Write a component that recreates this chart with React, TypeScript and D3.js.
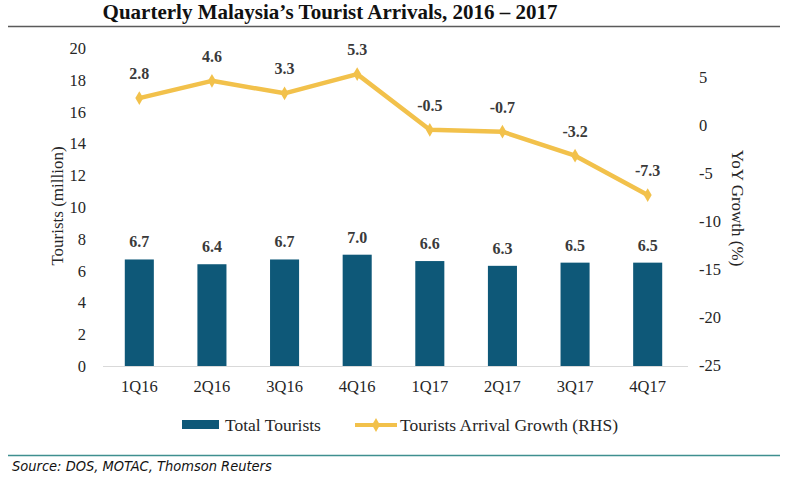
import React from "react";
import * as d3 from "d3";

const categories = ["1Q16", "2Q16", "3Q16", "4Q16", "1Q17", "2Q17", "3Q17", "4Q17"];
const totalTourists = [6.7, 6.4, 6.7, 7.0, 6.6, 6.3, 6.5, 6.5];
const arrivalGrowth = [2.8, 4.6, 3.3, 5.3, -0.5, -0.7, -3.2, -7.3];
const leftTicks = [0, 2, 4, 6, 8, 10, 12, 14, 16, 18, 20];
const rightTicks = [5, 0, -5, -10, -15, -20, -25];

const W = 795;
const H = 483;
const BAR = "#0e5878";
const LINE = "#f2c14b";
const TXT = "#262626";
const SERIF = "'Liberation Serif', 'Times New Roman', serif";

export default function App() {
  const x = d3.scaleBand<string>().domain(categories).range([103, 684]).paddingInner(0.6).paddingOuter(0.3);
  const yL = d3.scaleLinear().domain([0, 20]).range([366, 48]);
  const yR = d3.scaleLinear().domain([-25, 5]).range([365, 77]);
  const cx = (c: string) => (x(c) as number) + x.bandwidth() / 2;
  const line = d3
    .line<number>()
    .x((_, i) => cx(categories[i]))
    .y((d) => yR(d));
  const diamond = d3.symbol().type(d3.symbolDiamond).size(55)();

  return (
    <svg
      width={W}
      height={H}
      style={{ position: "absolute", left: 0, top: 0, background: "#fff" }}
      fontFamily={SERIF}
    >
      <rect width={W} height={H} fill="#fff" />
      <text x={330} y={19} textAnchor="middle" fontSize={21} fontWeight="bold" fill="#111">
        Quarterly Malaysia’s Tourist Arrivals, 2016 – 2017
      </text>
      <line x1={8} x2={780} y1={26.5} y2={26.5} stroke="#5a5a5a" strokeWidth={1.3} />

      {/* left axis */}
      {leftTicks.map((t) => (
        <text key={"l" + t} x={86} y={yL(t) + 6} textAnchor="end" fontSize={16.5} fill={TXT}>
          {t}
        </text>
      ))}
      <text
        transform={`translate(63,206) rotate(-90)`}
        textAnchor="middle"
        fontSize={17}
        fill={TXT}
      >
        Tourists (million)
      </text>

      {/* right axis */}
      {rightTicks.map((t) => (
        <text key={"r" + t} x={699} y={yR(t) + 6} textAnchor="start" fontSize={16.5} fill={TXT}>
          {t}
        </text>
      ))}
      <text
        transform={`translate(732,208) rotate(90)`}
        textAnchor="middle"
        fontSize={17}
        fill={TXT}
      >
        YoY Growth (%)
      </text>

      {/* baseline */}
      <line x1={103} x2={688} y1={366.5} y2={366.5} stroke="#d9d9d9" strokeWidth={1.2} />

      {/* bars */}
      {categories.map((c, i) => (
        <g key={"b" + c}>
          <rect
            x={x(c)}
            y={yL(totalTourists[i])}
            width={x.bandwidth()}
            height={yL(0) - yL(totalTourists[i])}
            fill={BAR}
          />
          <text
            x={cx(c)}
            y={yL(totalTourists[i]) - 12}
            textAnchor="middle"
            fontSize={16}
            fontWeight="bold"
            fill="#3a3a3a"
          >
            {totalTourists[i].toFixed(1)}
          </text>
          <text x={cx(c)} y={392} textAnchor="middle" fontSize={16.5} fill={TXT}>
            {c}
          </text>
        </g>
      ))}

      {/* line */}
      <path d={line(arrivalGrowth) || ""} fill="none" stroke={LINE} strokeWidth={4.5} strokeLinejoin="round" />
      {arrivalGrowth.map((v, i) => (
        <g key={"p" + i}>
          <path d={diamond || ""} transform={`translate(${cx(categories[i])},${yR(v)})`} fill={LINE} />
          <text
            x={cx(categories[i])}
            y={yR(v) - 19}
            textAnchor="middle"
            fontSize={16}
            fontWeight="bold"
            fill="#3a3a3a"
          >
            {v.toFixed(1)}
          </text>
        </g>
      ))}

      {/* legend */}
      <rect x={182} y={420} width={37} height={9} fill={BAR} />
      <text x={225} y={431} fontSize={17.5} fill={TXT}>
        Total Tourists
      </text>
      <line x1={355} x2={397} y1={425} y2={425} stroke={LINE} strokeWidth={4} />
      <path d={diamond || ""} transform="translate(376,425)" fill={LINE} />
      <text x={400} y={431} fontSize={17.5} fill={TXT}>
        Tourists Arrival Growth (RHS)
      </text>

      {/* footer */}
      <line x1={8} x2={780} y1={455.5} y2={455.5} stroke="#3f8f8f" strokeWidth={1.3} />
      <text
        x={12}
        y={471}
        fontSize={14.5}
        fontStyle="italic"
        fontFamily="'Liberation Sans Narrow', 'DejaVu Sans Condensed', 'Open Sans', sans-serif"
        fill="#111"
      >
        Source: DOS, MOTAC, Thomson Reuters
      </text>
    </svg>
  );
}
